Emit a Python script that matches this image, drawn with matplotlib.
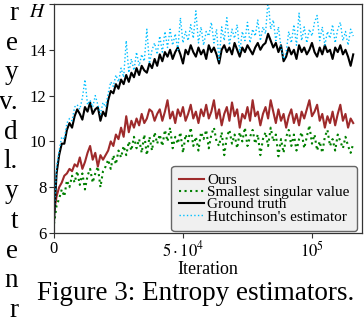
"""
Figure 3 of the paper: entropy estimators over training iterations.
Renders a 364x320 crop (margin text of the neighbouring column + caption).
"""
import matplotlib

matplotlib.use("Agg")
import matplotlib.pyplot as plt
import numpy as np

LOG_EVERY = 1000  # one logged value every 1000 iterations

# ---------- series ----------
ours = [
    6.9, 7.6, 8.0, 8.2, 8.5, 8.6, 8.8, 8.7, 9.0, 8.9, 9.3, 8.8, 9.1, 9.5, 9.8, 9.2, 9.5, 8.9, 9.4, 9.2, 9.4,
    9.6, 10.0, 9.8, 10.3, 10.1, 10.6, 10.2, 11.1, 10.4, 10.9, 10.6, 11.0, 10.7, 11.2, 10.8, 11.0, 11.4, 11.3, 10.9, 11.2,
    11.4, 10.9, 11.3, 11.8, 11.0, 11.3, 10.8, 11.4, 11.1, 11.5, 10.9, 11.2, 11.6, 11.0, 11.3, 10.8, 11.4, 11.1, 11.6, 11.0,
    11.3, 11.8, 11.0, 11.4, 10.7, 11.2, 11.5, 10.9, 11.7, 11.1, 11.4, 10.6, 11.2, 11.0, 11.5, 10.9, 11.8, 11.1, 11.3, 10.7,
    11.2, 11.5, 11.0, 11.8, 11.3, 10.8, 11.4, 10.9, 11.2, 10.6, 11.1, 11.4, 10.8, 11.2, 10.7, 11.3, 11.0, 11.4,
    11.8, 11.1, 11.3, 11.6, 10.9, 11.2, 10.6, 11.1, 10.8, 11.3, 10.7, 11.2, 11.6, 10.9, 11.2, 10.6, 11.0, 10.8,
]
smallest_sv = [
    6.4, 7.2, 7.5, 7.9, 7.6, 8.3, 8.0, 8.5, 8.2, 8.7, 8.1, 8.6, 7.9, 8.5, 8.8, 8.2, 8.6, 8.9, 8.0, 8.7, 8.9,
    9.2, 8.8, 9.4, 9.0, 9.6, 9.3, 9.8, 9.4, 10.0, 9.6, 10.2, 9.7, 10.1, 9.5, 10.3, 9.4, 10.2, 9.6, 10.4, 9.9,
    10.3, 9.8, 10.5, 10.0, 10.6, 9.7, 10.2, 9.9, 10.4, 9.5, 10.3, 10.0, 10.6, 9.8, 10.2, 9.6, 10.4, 10.1, 10.5, 9.7,
    10.3, 10.6, 10.0, 9.8, 10.4, 9.4, 10.2, 10.5, 9.9, 10.3, 9.7, 10.4, 10.0, 10.6, 9.8, 10.2, 10.5, 9.9, 10.3, 9.4,
    10.1, 10.4, 9.8, 10.6, 10.0, 10.3, 9.35, 10.1, 9.5, 10.2, 10.5, 9.8, 10.3, 9.6, 10.1, 10.4, 9.7, 10.2,
    10.7, 9.9, 10.3, 9.6, 10.0, 9.5, 10.2, 10.5, 9.8, 10.1, 9.6, 10.3, 10.0, 9.7, 10.2, 9.8, 9.5, 9.9,
]
ground_truth = [
    6.5, 8.6, 9.4, 9.9, 9.9, 10.5, 10.8, 10.6, 11.1,
    11.4, 11.2, 10.95, 11.5, 11.3, 11.7, 11.2, 11.4, 11.5, 10.9, 11.3, 11.1,
    11.8, 12.2, 12.1, 12.5, 12.3, 12.7, 12.5, 12.9, 12.6, 13.0, 12.8, 13.2, 12.9, 13.3, 13.1, 13.0, 13.4, 13.2, 13.6, 13.3,
    13.8, 13.5, 13.9, 13.7, 14.0, 13.6, 13.9, 14.1, 13.8, 13.4, 14.0, 13.8, 14.2, 13.9, 13.7, 14.1, 13.8, 14.0, 13.6, 14.2,
    13.9, 14.1, 13.8, 13.4, 14.0, 14.2, 13.9, 14.1, 13.8, 14.3, 14.0, 13.7, 14.1, 13.9, 14.2, 14.0, 13.8, 14.1, 14.3, 14.0,
    14.2, 14.3, 14.7, 14.4, 14.1, 14.3, 13.9, 14.2, 13.5, 13.7,
    14.1, 13.8, 14.0, 13.6, 14.2, 13.9, 14.1, 13.8, 14.0, 14.3, 13.9, 13.7, 14.1,
    13.8, 14.2, 13.9, 14.0, 13.6, 14.1, 13.9, 14.2, 13.8, 14.0, 13.7, 13.3, 13.8,
]
hutchinson = [
    6.6, 8.9, 9.6, 10.2, 10.1, 10.8, 11.0, 10.9, 11.5, 11.6, 11.4, 11.9, 12.7, 11.6, 11.8, 11.5, 12.0, 11.6, 11.2, 11.7, 11.5,
    12.1, 12.6, 12.4, 12.9, 12.6, 13.2, 12.8, 14.4, 13.0, 13.6, 13.1, 13.9, 13.3, 13.8, 13.5, 14.9, 13.4, 14.0, 14.3, 13.8,
    14.6, 13.9, 14.8, 14.1, 14.9, 14.2, 14.7, 14.0, 15.4, 14.3, 14.8, 14.4, 15.1, 14.5, 15.7, 14.3, 15.0, 14.2, 14.8, 14.6,
    15.2, 14.3, 14.9, 13.5, 15.0, 14.4, 15.4, 14.2, 14.9, 14.5, 15.1, 13.9, 14.8, 14.4, 15.2, 14.3, 14.9, 14.6, 15.3, 14.4,
    15.0, 14.7, 16.2, 14.9, 15.3, 14.4, 15.0, 14.1, 13.6, 13.9,
    14.8, 14.3, 15.1, 14.2, 15.6, 14.4, 15.0, 14.3, 14.9, 14.6, 15.2, 15.5, 14.4,
    15.0, 14.2, 14.8, 14.5, 15.1, 14.3, 14.9, 15.2, 14.4, 14.8, 14.2, 14.9, 14.6,
]

series_labels = ["Ours", "Smallest singular value", "Ground truth", "Hutchinson's estimator"]
x_ticks = [0, 5e4, 1e5]
x_tick_labels = ["0", r"$5\cdot10^4$", r"$10^5$"]
y_ticks = [6, 8, 10, 12, 14, 16]
y_tick_labels = ["6", "8", "10", "12", "14", r"$H$"]
caption = "Figure 3: Entropy estimators."
# last letters of the neighbouring text column, one per line
margin_chars = ["r", "e", "y", "v.", "d", "l.", "y", "t", "e", "n", "r"]


def main() -> None:
    plt.rcParams["font.family"] = ["Liberation Serif", "DejaVu Serif"]
    plt.rcParams["mathtext.fontset"] = "stix"

    W, H = 364, 320
    fig = plt.figure(figsize=(W / 100, H / 100), dpi=100)
    ax = fig.add_axes([54 / W, 87 / H, 308 / W, 229 / H])

    styles = [
        dict(color="#9e2a2b", lw=1.5, ls="-"),
        dict(color="#008000", lw=1.5, ls=":"),
        dict(color="black", lw=1.5, ls="-"),
        dict(color="#00bfff", lw=1.0, ls=":"),
    ]
    for ys, lab, st in zip([ours, smallest_sv, ground_truth, hutchinson], series_labels, styles):
        x = np.arange(len(ys)) * LOG_EVERY
        ax.plot(x, ys, label=lab, **st)

    ax.set_xlim(0, 119400)
    ax.set_ylim(6, 16)
    ax.set_xticks(x_ticks, x_tick_labels)
    ax.set_yticks(y_ticks, y_tick_labels)
    ax.tick_params(direction="out", length=3.5, width=0.8, pad=2, labelsize=12, color="#333333")
    h_label = ax.get_yticklabels()[-1]
    h_label.set_fontsize(14)
    h_label.set_verticalalignment("top")
    for sp in ax.spines.values():
        sp.set_color("#333333")
        sp.set_linewidth(0.9)
    ax.set_xlabel("Iteration", fontsize=13, labelpad=0)

    leg = ax.legend(loc="lower right", bbox_to_anchor=(0.985, 0.008), borderaxespad=0,
                    fontsize=11, handlelength=1.6, handletextpad=0.25, labelspacing=-0.1,
                    borderpad=0.5, fancybox=True, framealpha=1.0)
    leg.get_frame().set_facecolor("#f0f0f0")
    leg.get_frame().set_edgecolor("#666666")

    fig.text(37 / W, 1 - 300 / H, caption, fontsize=19.5, va="baseline", ha="left")
    for i, ch in enumerate(margin_chars):
        fig.text(18 / W, 1 - (20 + 29.7 * i) / H, ch, fontsize=19.5, va="baseline", ha="right")

    fig.savefig("out.png", dpi=100)


if __name__ == "__main__":
    main()
